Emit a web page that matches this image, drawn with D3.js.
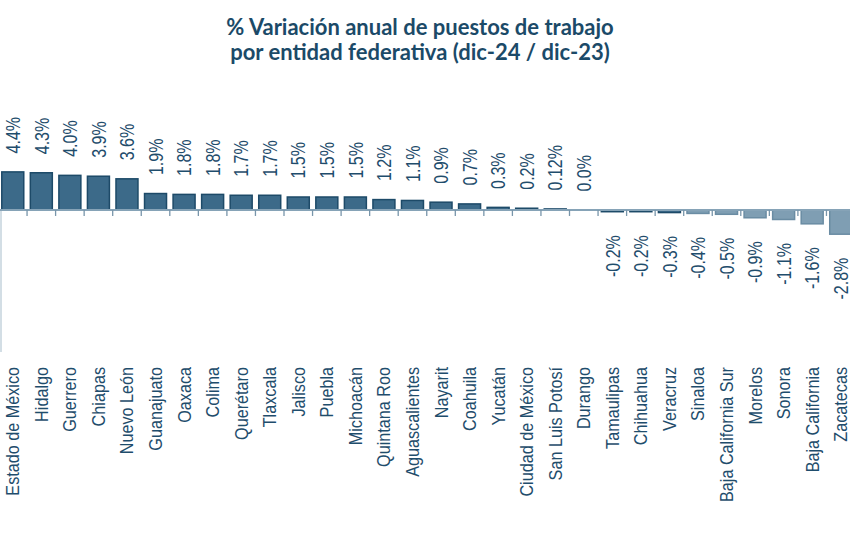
<!DOCTYPE html>
<html>
<head>
<meta charset="utf-8">
<script src="https://cdn.jsdelivr.net/npm/d3@7"></script>
<style>
  html, body { margin: 0; padding: 0; background: #ffffff; }
  svg { display: block; }
</style>
</head>
<body>
<svg id="chart" width="850" height="550"></svg>
<script>
const categories = ["Estado de México","Hidalgo","Guerrero","Chiapas","Nuevo León","Guanajuato","Oaxaca","Colima","Querétaro","Tlaxcala","Jalisco","Puebla","Michoacán","Quintana Roo","Aguascalientes","Nayarit","Coahuila","Yucatán","Ciudad de México","San Luis Potosí","Durango","Tamaulipas","Chihuahua","Veracruz","Sinaloa","Baja California Sur","Morelos","Sonora","Baja California","Zacatecas"];
const values = [4.4,4.3,4.0,3.9,3.6,1.9,1.8,1.8,1.7,1.7,1.5,1.5,1.5,1.2,1.1,0.9,0.7,0.3,0.2,0.12,0.0,-0.2,-0.2,-0.3,-0.4,-0.5,-0.9,-1.1,-1.6,-2.8];
const valueLabels = ["4.4%","4.3%","4.0%","3.9%","3.6%","1.9%","1.8%","1.8%","1.7%","1.7%","1.5%","1.5%","1.5%","1.2%","1.1%","0.9%","0.7%","0.3%","0.2%","0.12%","0.0%","-0.2%","-0.2%","-0.3%","-0.4%","-0.5%","-0.9%","-1.1%","-1.6%","-2.8%"];
const titleLines = ["% Variación anual de puestos de trabajo","por entidad federativa (dic-24 / dic-23)"];

const svg = d3.select("#chart");
const data = categories.map((c,i)=>({cat:c, v:values[i], lab:valueLabels[i]}));

const x = d3.scaleBand().domain(categories).range([-1.5, 855]).paddingInner(0.23).paddingOuter(0.115);
const y = d3.scaleLinear().domain([-2.8, 4.4]).range([234.2, 171.9]);
const y0 = y(0);

const darkFill = "#3c6a89", darkStroke = "#1d4a68";
const lightFill = "#7f9eb3", lightStroke = "#6a8ca3";
const textCol = "#1f4d6c";

// title
svg.selectAll("text.title").data(titleLines).join("text")
  .attr("class","title")
  .attr("x", 420).attr("y", (d,i)=> 35 + i*25)
  .attr("text-anchor","middle")
  .attr("font-family","Lato, 'Open Sans', sans-serif")
  .attr("font-weight","bold")
  .attr("font-size", 22)
  .attr("fill", "#1b4a68")
  .text(d=>d);

// left vertical line
svg.append("line").attr("x1",1).attr("x2",1).attr("y1",y0).attr("y2",352)
  .attr("stroke","#c5d3dd").attr("stroke-width",1.5);

// bars
svg.selectAll("rect.bar").data(data).join("rect")
  .attr("class","bar")
  .attr("x", d=>x(d.cat))
  .attr("width", x.bandwidth())
  .attr("y", d=> d.v>=0 ? y(d.v) : y0)
  .attr("height", d=> Math.abs(y(d.v)-y0))
  .attr("fill", d=> d.v >= -0.35 ? darkFill : lightFill)
  .attr("stroke", d=> d.v >= -0.35 ? darkStroke : lightStroke)
  .attr("stroke-width", 1.5);

// baseline axis
const step = x.step();
const bounds = d3.range(1, categories.length).map(i => x(categories[i]) - (step - x.bandwidth())/2);
svg.append("line").attr("x1",0).attr("x2",850).attr("y1",y0).attr("y2",y0)
  .attr("stroke","#86a3b7").attr("stroke-width",2);
svg.selectAll("line.tick").data(bounds).join("line")
  .attr("class","tick")
  .attr("x1",d=>d).attr("x2",d=>d).attr("y1",y0).attr("y2",y0+6)
  .attr("stroke","#7895aa").attr("stroke-width",1.3);

// value labels
svg.selectAll("text.val").data(data).join("text")
  .attr("class","val")
  .attr("transform", d => {
    const cx = x(d.cat) + x.bandwidth()/2;
    const yy = d.v >= 0 ? y(d.v) - 18.5 : y(d.v) + 23.5;
    return `translate(${cx},${yy}) rotate(-90) scale(0.8,1)`;
  })
  .attr("text-anchor", d => d.v >= 0 ? "start" : "end")
  .attr("dy","0.36em")
  .attr("font-family","'Liberation Sans', Arial, sans-serif")
  .attr("font-size", 20)
  .attr("fill", textCol)
  .text(d=>d.lab);

// category labels
svg.selectAll("text.cat").data(data).join("text")
  .attr("class","cat")
  .attr("transform", d => `translate(${x(d.cat) + x.bandwidth()/2},367) rotate(-90) scale(0.9,1)`)
  .attr("text-anchor","end")
  .attr("dy","0.36em")
  .attr("font-family","'Liberation Sans', Arial, sans-serif")
  .attr("font-size", 18)
  .attr("fill", textCol)
  .text(d=>d.cat);
</script>
</body>
</html>
